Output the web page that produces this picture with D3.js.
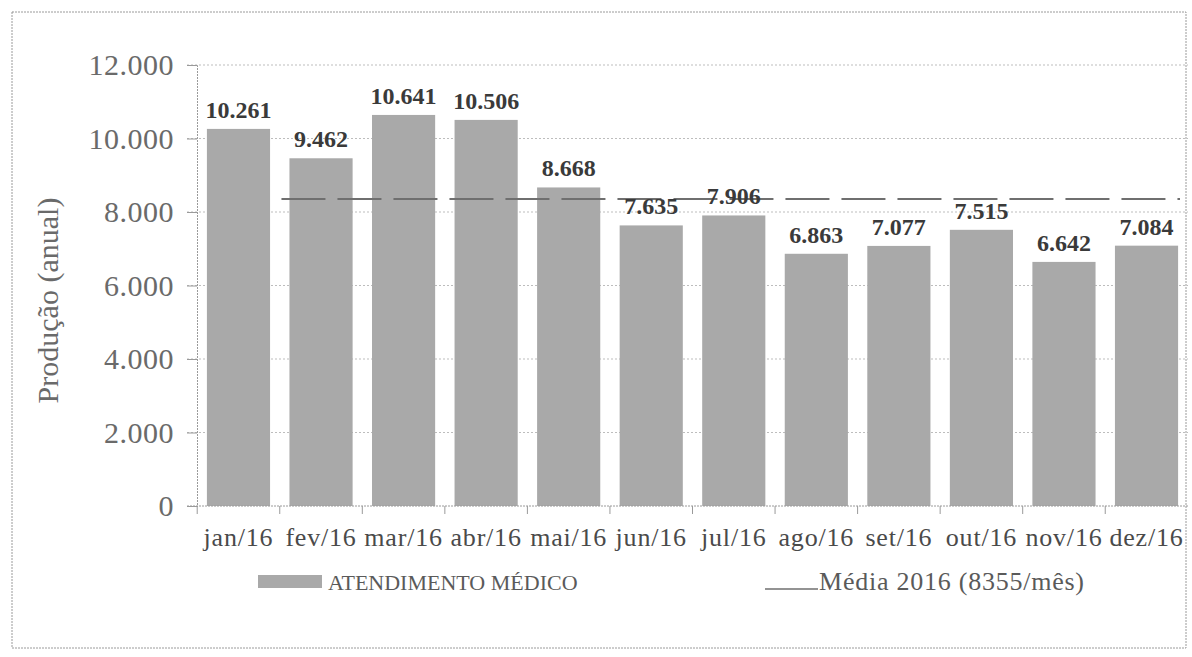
<!DOCTYPE html>
<html>
<head>
<meta charset="utf-8">
<script src="https://cdn.jsdelivr.net/npm/d3@7"></script>
<style>
  body { margin: 0; background: #fff; }
  text { font-family: "Liberation Serif", "DejaVu Serif", serif; }
</style>
</head>
<body>
<div id="chart"></div>
<script>
var months = ["jan/16", "fev/16", "mar/16", "abr/16", "mai/16", "jun/16",
              "jul/16", "ago/16", "set/16", "out/16", "nov/16", "dez/16"];
var atendimentos = [10261, 9462, 10641, 10506, 8668, 7635, 7906, 6863, 7077, 7515, 6642, 7084];
var valueLabels = ["10.261", "9.462", "10.641", "10.506", "8.668", "7.635",
                   "7.906", "6.863", "7.077", "7.515", "6.642", "7.084"];
var yTicks = [0, 2000, 4000, 6000, 8000, 10000, 12000];
var yTickLabels = ["0", "2.000", "4.000", "6.000", "8.000", "10.000", "12.000"];
var media = 8355;

var width = 1192, height = 657;
var margin = { top: 65, right: 4, bottom: 151, left: 197 };

var svg = d3.select("#chart").append("svg")
    .attr("width", width)
    .attr("height", height);

// moldura externa
svg.append("rect")
    .attr("x", 12).attr("y", 12)
    .attr("width", 1174).attr("height", 636)
    .attr("fill", "none")
    .attr("stroke", "#9a9a9a")
    .attr("stroke-dasharray", "2,1");

var x = d3.scaleBand()
    .domain(months)
    .range([margin.left, width - margin.right])
    .paddingInner(0.235)
    .paddingOuter(0.12);

var y = d3.scaleLinear()
    .domain([0, 12000])
    .range([height - margin.bottom, margin.top]);

// grade
svg.append("g")
    .selectAll("line")
    .data(yTicks.slice(1))
    .join("line")
    .attr("x1", margin.left - 10)
    .attr("x2", width - margin.right)
    .attr("y1", function (d) { return y(d); })
    .attr("y2", function (d) { return y(d); })
    .attr("stroke", "#bdbdbd")
    .attr("stroke-dasharray", "2,2");

// eixo y
var yAxis = d3.axisLeft(y)
    .tickValues(yTicks)
    .tickFormat(function (d, i) { return yTickLabels[i]; })
    .tickSize(10)
    .tickPadding(13);

var gy = svg.append("g")
    .attr("transform", "translate(" + margin.left + ",0)")
    .call(yAxis);
gy.select(".domain").attr("stroke", "#9a9a9a").attr("stroke-dasharray", "2,1");
gy.selectAll(".tick line").attr("stroke", "#9a9a9a");
gy.selectAll(".tick text")
    .attr("fill", "#6a6a6a")
    .style("font-size", "30px")
    .style("letter-spacing", "0.5px");

// barras
svg.append("g")
    .selectAll("rect")
    .data(atendimentos)
    .join("rect")
    .attr("x", function (d, i) { return x(months[i]); })
    .attr("y", function (d) { return y(d); })
    .attr("width", x.bandwidth())
    .attr("height", function (d) { return y(0) - y(d); })
    .attr("fill", "#a9a9a9");

// eixo x
var step = x.step();
var gx = svg.append("g")
    .attr("transform", "translate(0," + y(0) + ")");
gx.append("line")
    .attr("x1", margin.left - 10)
    .attr("x2", width - margin.right)
    .attr("stroke", "#9a9a9a")
    .attr("stroke-dasharray", "2,1");
gx.selectAll(".sep")
    .data(months)
    .join("line")
    .attr("class", "sep")
    .attr("x1", function (d) { return x(d) - step * x.paddingInner() / 2; })
    .attr("x2", function (d) { return x(d) - step * x.paddingInner() / 2; })
    .attr("y1", 0).attr("y2", 8)
    .attr("stroke", "#9a9a9a");
gx.selectAll(".lbl")
    .data(months)
    .join("text")
    .attr("class", "lbl")
    .attr("x", function (d) { return x(d) + x.bandwidth() / 2; })
    .attr("y", 40)
    .attr("text-anchor", "middle")
    .attr("fill", "#4a4a4a")
    .style("font-size", "26px")
    .style("letter-spacing", "0.8px")
    .text(function (d) { return d; });

// linha da média
svg.append("line")
    .attr("x1", x(months[1]) - 8)
    .attr("x2", width - margin.right - 8)
    .attr("y1", y(media))
    .attr("y2", y(media))
    .attr("stroke", "#6f6f6f")
    .attr("stroke-width", 2)
    .attr("stroke-dasharray", "44,12");

// rótulos de valor
svg.append("g")
    .selectAll("text")
    .data(atendimentos)
    .join("text")
    .attr("x", function (d, i) { return x(months[i]) + x.bandwidth() / 2; })
    .attr("y", function (d) { return y(d) - 11; })
    .attr("text-anchor", "middle")
    .attr("fill", "#3a3a3a")
    .attr("font-weight", "bold")
    .style("font-size", "24px")
    .text(function (d, i) { return valueLabels[i]; });

// título do eixo y
svg.append("text")
    .attr("transform", "translate(58," + ((margin.top + y(0)) / 2 + 15) + ") rotate(-90)")
    .attr("text-anchor", "middle")
    .attr("fill", "#6a6a6a")
    .style("font-size", "30px")
    .text("Produção (anual)");

// legenda
var legend = svg.append("g");
legend.append("rect")
    .attr("x", 258).attr("y", 575)
    .attr("width", 64).attr("height", 13)
    .attr("fill", "#a9a9a9");
legend.append("text")
    .attr("x", 328).attr("y", 590)
    .attr("fill", "#5a5a5a")
    .style("font-size", "22px")
    .text("ATENDIMENTO MÉDICO");
legend.append("line")
    .attr("x1", 765).attr("x2", 818)
    .attr("y1", 589).attr("y2", 589)
    .attr("stroke", "#6f6f6f")
    .attr("stroke-width", 1.5);
legend.append("text")
    .attr("x", 819).attr("y", 590)
    .attr("fill", "#5a5a5a")
    .style("font-size", "26px")
    .attr("textLength", 265)
    .attr("lengthAdjust", "spacing")
    .text("Média 2016 (8355/mês)");
</script>
</body>
</html>
